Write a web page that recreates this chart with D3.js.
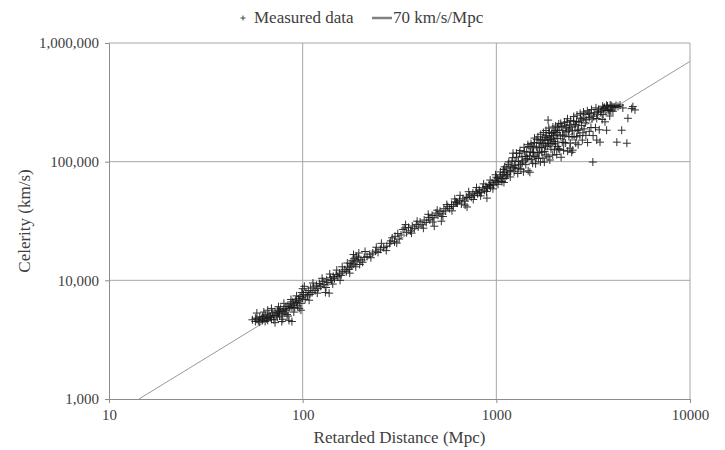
<!DOCTYPE html>
<html>
<head>
<meta charset="utf-8">
<script src="https://cdn.jsdelivr.net/npm/d3@7"></script>
<style>
  body { margin: 0; background: #fff; }
  svg text { font-family: "Times New Roman", "Liberation Serif", "DejaVu Serif", Times, serif; fill: #404040; }
</style>
</head>
<body>
<div class="hubbleViz"></div>
<script>
var measured = [
  [55,4650],[57,4800],[57,4500],[58,4700],[59,4550],[60,4900],[60,4450],[61,4700],[62,4600],[62,4950],
  [63,4800],[64,4500],[64,5100],[65,4750],[66,4900],[66,4600],[67,5200],[68,4850],[68,5000],[69,4700],
  [70,5300],[71,5050],[71,4650],[72,5400],[73,5100],[74,4900],[74,5600],[75,5300],[76,5000],[76,5500],
  [77,5800],[78,5200],[79,5450],[79,4700],[80,5700],[81,5300],[82,6000],[82,5600],[83,5150],[84,6200],
  [85,5800],[85,4600],[86,6000],[87,6400],[88,5900],[88,4500],[89,6600],[90,6200],[91,5900],[92,6800],
  [93,6500],[94,6100],[95,7000],[96,6700],[97,7300],[98,6400],[98,5600],
  [58,5300],[63,5400],[66,5600],[69,5800],[72,4400],[75,6000],[78,4500],[80,6400],[84,5000],[87,6900],
  [90,5400],[93,7400],[96,5800],[99,7900],
  [100,7100],[100,8500],[101,7600],[103,6900],[104,7900],[106,7400],[107,8200],[109,7600],[110,8600],
  [112,7900],[114,8800],[116,8200],[118,9100],[120,8500],[122,9400],[124,8900],[127,9800],[129,9200],
  [131,7900],[133,10100],[135,9600],[137,7800],[139,10500],[141,10000],[144,10800],[146,10300],
  [149,11200],[152,10700],[155,11500],[158,11000],[161,11900],
  [102,8900],[108,6800],[113,9500],[119,7800],[126,10400],[132,8700],[138,11300],[143,9300],
  [150,12200],[156,10000],[160,13000],
  [165,12300],[168,11800],[171,12900],[174,12400],[176,13800],[178,13200],[180,14600],[182,13700],
  [184,15200],[186,14300],[189,16000],[191,14800],[194,15500],[197,13600],[200,14900],[204,14200],
  [208,15600],[215,15900],[222,16600],[230,17000],[238,17600],[245,17200],[252,18300],[262,18900],
  [272,19400],[281,20500],[290,22800],[298,21100],[306,20600],[315,22300],
  [170,14000],[175,11500],[183,16500],[188,13000],[195,17000],[210,17500],[225,15500],[240,19000],
  [255,20500],[270,17800],[285,21500],[300,23500],[310,24800],
  [322,24100],[330,26800],[337,27600],[344,25200],[352,27900],[360,26100],[368,28700],[377,27300],
  [386,29600],[395,28200],[404,31000],[414,29400],[424,32200],[435,30800],[446,33900],[454,32300],
  [466,35200],[477,33700],[478,28600],[488,36900],[500,35400],[512,38200],[520,31500],[524,36300],
  [536,40100],[548,38400],[561,41800],[574,40200],[587,43600],[600,42000],[614,45800],[623,45600],
  [340,29500],[365,25000],[390,31500],[420,27500],[445,36000],[470,31000],[495,39000],[530,34500],
  [555,43500],[590,38500],[610,48500],
  [630,44800],[645,47200],[660,43900],[672,48600],[686,46500],[700,50300],[706,41500],[713,49800],
  [728,52400],[742,50100],[757,54300],[771,51800],[786,56200],[800,53600],[815,57900],[820,55400],
  [836,54700],[852,60200],[868,57500],[884,61800],[894,49300],[900,59600],[917,64100],[925,63200],
  [934,60900],[951,66400],[968,63500],[985,69200],[1000,73900],[1000,67100],[1015,71800],[1030,68700],
  [1045,75400],[1060,72100],[1080,72500],[1080,78200],[1095,66800],
  [650,52000],[690,43000],[720,55800],[760,48000],[790,60500],[830,51500],[860,65000],[890,56000],
  [930,70000],[960,59000],[990,77500],[1020,64500],[1050,82000],[1070,68000],[1090,86000],
  [1100,80900],[1110,72300],[1125,88200],[1140,78200],[1150,95000],[1165,83200],[1180,74300],
  [1190,91600],[1205,101200],[1220,89700],[1220,117900],[1235,82100],[1250,100600],[1260,88200],
  [1275,108900],[1290,79500],[1300,100100],[1315,117800],[1330,95000],[1340,86300],[1355,111000],
  [1370,101700],[1380,82100],[1395,122100],[1410,110500],[1420,94400],[1435,120500],[1450,106600],
  [1460,83800],[1475,134200],[1490,81400],[1500,120800],[1515,103900],[1530,130700],[1540,97000],
  [1555,119700],[1570,145100],[1580,110600],[1595,96000],[1610,133000],[1620,153100],[1635,120200],
  [1650,106300],[1660,144100],[1675,131300],[1690,99400],[1700,142800],[1715,120100],[1730,155000],
  [1740,107200],[1755,141300],[1770,99100],[1780,152000],[1795,135700],[1810,114000],[1820,165600],
  [1835,151600],[1850,224000],[1850,110100],[1860,143200],[1875,164100],[1890,103200],[1900,153000],
  [1915,127300],[1930,172900],[1940,142600],[1955,113600],[1970,165500],[1980,155200],[1995,125700],
  [2010,182900],[2020,141400],[2035,168100],[2050,114800],[2060,175900],[2075,156900],[2090,128700],
  [1105,90500],[1130,76000],[1160,99500],[1185,84500],[1215,108000],[1245,93000],[1270,118000],
  [1305,88000],[1325,124000],[1360,97500],[1390,132000],[1425,105000],[1455,139000],[1485,112000],
  [1510,142000],[1545,119000],[1575,158000],[1605,107500],[1640,162000],[1665,118500],[1695,170000],
  [1720,131000],[1750,176000],[1775,122000],[1805,183000],[1830,135000],[1865,192000],[1895,141000],
  [1925,158000],[1960,196000],[1990,148000],[2025,200000],[2065,134000],[2100,208000],[2070,193000],
  [1985,178000],[1880,176000],[1790,160000],[1690,152000],[1560,135000],
  [2110,184600],[2125,126400],[2140,164800],[2160,108900],[2175,197900],[2190,145600],[2210,182500],
  [2225,124600],[2240,164600],[2260,202500],[2280,143600],[2300,193200],[2320,216000],[2335,122600],
  [2350,181000],[2370,162600],[2390,204100],[2410,143400],[2430,195600],[2450,120000],[2470,181500],
  [2480,125000],[2500,218800],[2520,162300],[2545,199500],[2570,143900],[2595,218000],[2620,183400],
  [2645,138900],[2670,214900],[2700,166300],[2725,232700],[2750,202100],[2780,151800],[2810,232100],
  [2840,188900],[2870,251100],[2900,166500],[2930,225600],[2960,145000],[3000,252000],[3040,257000],
  [3080,194000],[3120,229300],[3150,99300],[3160,165900],[3200,257600],[3250,193400],[3300,152000],
  [3300,231000],[3320,251000],[3350,262600],[3400,185600],[3430,146000],[3460,261600],[3480,268000],
  [3520,226700],[3560,249200],[3580,280700],[3620,286300],[3640,216600],[3680,270500],[3710,298700],
  [3710,184000],[3750,294000],[3780,269900],[3820,275400],[3850,242600],[3900,267500],[3920,296300],
  [3960,291100],[4000,266000],[4050,289200],[4100,287000],[4190,146000],[4250,291600],[4350,300000],
  [4440,184000],[4500,283500],[4720,143000],[4780,232000],[5000,280000],[5070,291000],[5200,273000],
  [2150,210000],[2200,168000],[2250,215000],[2290,178000],[2330,230000],[2380,188000],[2420,222000],
  [2460,162000],[2510,240000],[2560,206000],[2610,247000],[2660,185000],[2710,255000],[2760,224000],
  [2820,262000],[2880,212000],[2950,268000],[3020,236000],[3100,275000],[3180,242000],[3270,284000],
  [3370,276000],[3540,293000],[3870,300000],[4150,298000],[2230,145000],[2400,130000],[2600,162000],
  [2800,175000],[3020,180000]
];

var hubbleConstant = 70; // km/s/Mpc
var xTicks = [10, 100, 1000, 10000];
var yTicks = [1000, 10000, 100000, 1000000];
var legendLabels = ["Measured data", "70 km/s/Mpc"];

var width = 725,
    height = 450,
    margin = {top: 43, right: 35, bottom: 51, left: 109};

var x = d3.scaleLog()
    .domain([10, 10000])
    .range([margin.left, width - margin.right]);

var y = d3.scaleLog()
    .domain([1000, 1000000])
    .range([height - margin.bottom, margin.top]);

var svg = d3.select(".hubbleViz").append("svg")
    .attr("width", width)
    .attr("height", height);

// gridlines
svg.append("g")
    .selectAll("line")
    .data(xTicks.slice(1))
    .enter().append("line")
      .attr("x1", function(d){ return x(d); })
      .attr("x2", function(d){ return x(d); })
      .attr("y1", y(1000))
      .attr("y2", y(1000000))
      .style("stroke", "#a6a6a6")
      .style("stroke-width", 1);

svg.append("g")
    .selectAll("line")
    .data(yTicks.slice(1))
    .enter().append("line")
      .attr("x1", x(10))
      .attr("x2", x(10000))
      .attr("y1", function(d){ return y(d); })
      .attr("y2", function(d){ return y(d); })
      .style("stroke", "#a6a6a6")
      .style("stroke-width", 1);

// axes
var xAxis = svg.append("g")
    .attr("transform", "translate(0," + y(1000) + ")")
    .call(d3.axisBottom(x).tickValues(xTicks).tickFormat(d3.format("d")).tickSizeOuter(0).tickSize(4).tickPadding(6));

var yAxis = svg.append("g")
    .attr("transform", "translate(" + x(10) + ",0)")
    .call(d3.axisLeft(y).tickValues(yTicks).tickFormat(d3.format(",")).tickSizeOuter(0).tickSize(4).tickPadding(6));

[xAxis, yAxis].forEach(function(a){
  a.attr("font-family", null);
  a.select(".domain").style("stroke", "#8c8c8c");
  a.selectAll(".tick line").style("stroke", "#8c8c8c");
  a.selectAll(".tick text")
      .style("font-size", "15px")
      .style("fill", "#404040");
});

// 70 km/s/Mpc line
var lineData = [[1000 / hubbleConstant, 1000], [10000, 10000 * hubbleConstant]];
svg.append("path")
    .datum(lineData)
    .attr("d", d3.line().x(function(d){ return x(d[0]); }).y(function(d){ return y(d[1]); }))
    .style("fill", "none")
    .style("stroke", "#9a9a9a")
    .style("stroke-width", 1);

// measured data as "+" marks
var plus = "M-4,0H4M0,-4V4";
svg.append("g")
    .selectAll("path")
    .data(measured)
    .enter().append("path")
      .attr("transform", function(d){ return "translate(" + x(d[0]) + "," + y(d[1]) + ")"; })
      .attr("d", plus)
      .style("stroke", "#1a1a1a")
      .style("stroke-width", 1)
      .style("opacity", 0.9);

// axis titles
svg.append("text")
    .attr("x", (x(10) + x(10000)) / 2)
    .attr("y", 443)
    .style("text-anchor", "middle")
    .style("font-size", "17px")
    .text("Retarded Distance (Mpc)");

svg.append("text")
    .attr("transform", "translate(30," + (y(1000) + y(1000000)) / 2 + ") rotate(-90)")
    .style("text-anchor", "middle")
    .style("font-size", "17px")
    .text("Celerity (km/s)");

// legend
var legend = svg.append("g").attr("transform", "translate(0,18)");
legend.append("path")
    .attr("transform", "translate(243,0)")
    .attr("d", "M-2.5,0H2.5M0,-2.5V2.5")
    .style("stroke", "#404040")
    .style("stroke-width", 1);
legend.append("text")
    .attr("x", 254)
    .attr("y", 5)
    .style("font-size", "17px")
    .text(legendLabels[0]);
legend.append("line")
    .attr("x1", 372).attr("x2", 392)
    .attr("y1", 0).attr("y2", 0)
    .style("stroke", "#808080")
    .style("stroke-width", 2.5);
legend.append("text")
    .attr("x", 393)
    .attr("y", 5)
    .style("font-size", "17px")
    .text(legendLabels[1]);
</script>
</body>
</html>
